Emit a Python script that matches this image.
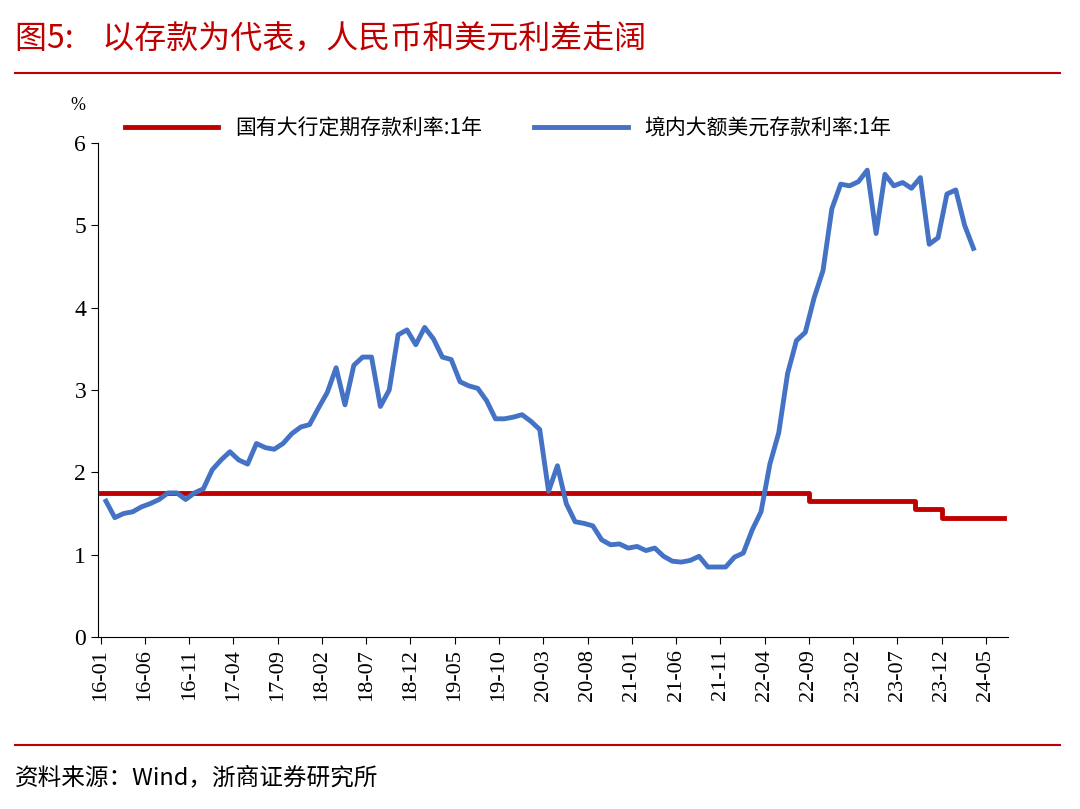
import numpy as np, pandas as pd, seaborn as sns, matplotlib
matplotlib.use("Agg")
import matplotlib.pyplot as plt

usd = [1.65,1.45,1.50,1.52,1.58,1.62,1.67,1.75,1.75,1.67,1.75,1.80,2.03,2.15,2.25,2.15,2.10,2.35,2.30,2.28,
       2.35,2.47,2.55,2.58,2.78,2.97,3.27,2.82,3.30,3.40,3.40,2.80,3.00,3.67,3.73,3.55,3.76,3.62,3.40,3.37,
       3.10,3.05,3.02,2.87,2.65,2.65,2.67,2.70,2.62,2.52,1.77,2.08,1.62,1.40,1.38,1.35,1.18,1.12,1.13,1.08,
       1.10,1.05,1.08,0.98,0.92,0.91,0.93,0.98,0.85,0.85,0.85,0.97,1.02,1.30,1.52,2.10,2.48,3.20,3.60,3.70,
       4.12,4.45,5.20,5.50,5.48,5.53,5.67,4.90,5.62,5.48,5.52,5.45,5.58,4.77,4.85,5.38,5.43,5.00,4.72]
cny_steps = [(0, 1.75), (80, 1.65), (92, 1.55), (95, 1.45)]  # month index from 2016-01
n_cny = 103
cny = []
for i in range(n_cny):
    v = [val for start, val in cny_steps if i >= start][-1]
    cny.append(v)
tick_labels = ["16-01","16-06","16-11","17-04","17-09","18-02","18-07","18-12","19-05","19-10","20-03",
               "20-08","21-01","21-06","21-11","22-04","22-09","23-02","23-07","23-12","24-05"]

cjk = ["Noto Sans CJK SC"]
fig = plt.figure(figsize=(10.8, 8.09), dpi=100)
ax = fig.add_axes([98/1080, 1-637/809, 910/1080, (637-143)/809])
dfc = pd.DataFrame({"x": np.arange(n_cny), "y": cny})
dfu = pd.DataFrame({"x": np.arange(len(usd)) + 0.6, "y": usd})
sns.lineplot(data=dfc, x="x", y="y", ax=ax, color="#C00000", lw=3.5, drawstyle="steps-post", label="国有大行定期存款利率:1年")
sns.lineplot(data=dfu, x="x", y="y", ax=ax, color="#4472C4", lw=3.5, label="境内大额美元存款利率:1年")
ax.set_xlim(-0.3, 102.5)
ax.set_ylim(0, 6)
ax.set_xticks(np.arange(0, 101, 5))
ax.set_xticklabels(tick_labels, rotation=90, fontsize=16, fontfamily="Liberation Serif")
ax.set_yticks(range(7))
ax.set_yticklabels([str(i) for i in range(7)], fontsize=17, fontfamily="Liberation Serif")
ax.set_xlabel(""); ax.set_ylabel("")
for s in ["top", "right"]:
    ax.spines[s].set_visible(False)
ax.tick_params(axis="x", length=5, direction="out")
ax.tick_params(axis="y", length=5, direction="out")
ax.legend(loc="lower left", bbox_to_anchor=(0.02, 0.99), ncol=2, frameon=False,
          prop={"family": cjk, "size": 15}, handlelength=4.5, columnspacing=2.5, borderaxespad=0)
fig.text(78/1080, 1-105/809, "%", fontsize=13, ha="center", va="center", fontfamily="Liberation Serif")
fig.text(15/1080, 1-40/809, "图5:    以存款为代表，人民币和美元利差走阔", color="#C00000", fontsize=23,
         fontfamily=cjk, va="center")
fig.add_artist(plt.Line2D([15/1080, 1060/1080], [1-73/809]*2, color="#C00000", lw=1.5))
fig.add_artist(plt.Line2D([15/1080, 1060/1080], [1-745/809]*2, color="#C00000", lw=1.5))
fig.text(15/1080, 1-778/809, "资料来源：Wind，浙商证券研究所", fontsize=17, fontfamily=cjk, va="center")
fig.savefig("out.png", dpi=100)
